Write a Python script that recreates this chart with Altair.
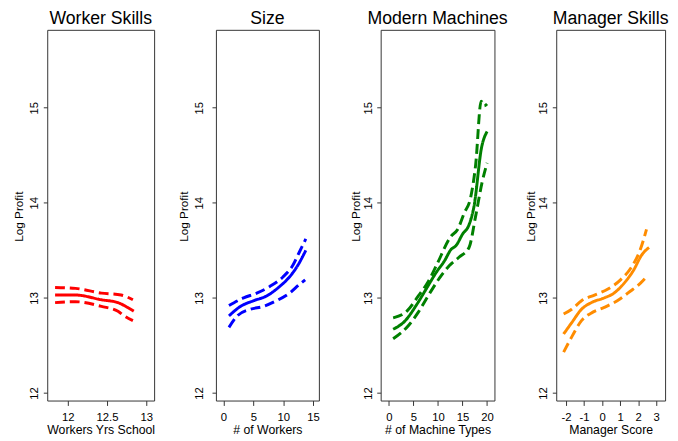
import altair as alt
import pandas as pd

FONT = "Liberation Sans"
BANDS = ["fit", "upper", "lower"]

# Panel 1: Worker Skills
ws_x_fit = [11.84, 12.10, 12.43, 12.64, 12.76, 12.84]
ws_fit = [13.03, 13.03, 12.98, 12.95, 12.90, 12.86]
ws_x_hi = [11.84, 12.10, 12.43, 12.68, 12.83]
ws_hi = [13.11, 13.10, 13.05, 13.03, 12.98]
ws_x_lo = [11.84, 12.10, 12.43, 12.64, 12.72, 12.83]
ws_lo = [12.95, 12.96, 12.91, 12.86, 12.81, 12.76]

# Panel 2: Size
sz_x_fit = [0.93, 2.85, 5.04, 7.22, 9.41, 11.06, 12.43, 13.79]
sz_fit = [12.81, 12.91, 12.97, 13.02, 13.12, 13.22, 13.34, 13.50]
sz_x_hi = [0.93, 3.39, 5.58, 7.77, 9.96, 11.60, 12.70, 13.79]
sz_hi = [12.92, 13.00, 13.05, 13.12, 13.22, 13.34, 13.48, 13.62]
sz_x_lo = [0.93, 2.30, 4.49, 6.68, 8.87, 11.06, 12.70, 13.68]
sz_lo = [12.69, 12.81, 12.88, 12.91, 12.97, 13.05, 13.14, 13.19]

# Panel 3: Modern Machines
mm_x_fit = [0.87, 3.33, 5.67, 7.67, 9.67, 11.33, 12.67, 13.67, 15.0, 16.33, 17.33, 18.87, 20.0]
mm_fit = [12.67, 12.76, 12.93, 13.10, 13.27, 13.39, 13.51, 13.55, 13.67, 13.77, 13.96, 14.58, 14.75]
mm_x_hi = [0.87, 3.67, 6.0, 8.0, 9.67, 12.67, 14.0, 15.33, 16.67, 17.67, 18.8, 19.4, 20.0]
mm_hi = [12.79, 12.86, 13.02, 13.17, 13.34, 13.65, 13.72, 13.89, 14.06, 14.40, 15.07, 15.02, 15.04]
mm_x_lo = [0.87, 4.0, 6.0, 8.33, 10.33, 12.33, 14.33, 16.33, 17.67, 19.0, 20.0]
mm_lo = [12.57, 12.71, 12.85, 13.05, 13.21, 13.34, 13.43, 13.53, 13.86, 14.22, 14.42]

# Panel 4: Manager Skills
ms_x_fit = [-2.13, -1.68, -1.14, -0.60, 0.12, 0.66, 1.20, 1.74, 2.19, 2.60]
ms_fit = [12.62, 12.74, 12.88, 12.95, 13.00, 13.05, 13.15, 13.29, 13.45, 13.53]
ms_x_hi = [-2.13, -1.68, -1.14, -0.42, 0.30, 1.02, 1.65, 2.10, 2.46]
ms_hi = [12.83, 12.88, 12.97, 13.03, 13.09, 13.19, 13.33, 13.50, 13.72]
ms_x_lo = [-2.13, -1.68, -1.14, -0.51, 0.12, 0.84, 1.56, 2.10, 2.55]
ms_lo = [12.43, 12.59, 12.76, 12.85, 12.90, 12.97, 13.07, 13.15, 13.24]

Y_TICKS = [12, 13, 14, 15]
Y_DOMAIN = [11.92, 15.82]


def panel(title, xs_list, ys_list, color, dom, ticks, xtitle, width, ytitle_x, ylab_pad):
    frames = []
    for band, xs, ys in zip(BANDS, xs_list, ys_list):
        frames.append(pd.DataFrame({"x": xs, "y": ys, "band": band}))
    df = pd.concat(frames, ignore_index=True)
    return alt.Chart(df).mark_line(
        strokeWidth=3, interpolate="monotone", color=color, strokeCap="butt"
    ).encode(
        x=alt.X("x:Q",
                scale=alt.Scale(domain=dom, nice=False, zero=False),
                axis=alt.Axis(values=ticks, title=xtitle,
                              labelExpr="datum.value + ''")),
        y=alt.Y("y:Q",
                scale=alt.Scale(domain=Y_DOMAIN, nice=False, zero=False),
                axis=alt.Axis(values=Y_TICKS, title="Log Profit",
                              titleX=ytitle_x, titleY=190,
                              labelPadding=ylab_pad)),
        detail="band:N",
        strokeDash=alt.StrokeDash(
            "band:N",
            scale=alt.Scale(domain=BANDS, range=[[1, 0], [10, 5], [10, 5]]),
            legend=None),
    ).properties(
        width=width, height=378,
        title=alt.TitleParams(title, fontSize=18, font=FONT, fontWeight="normal",
                              anchor="middle", baseline="alphabetic", offset=-12,
                              frame="group", color="black"),
    )


p1 = panel("Worker Skills", [ws_x_fit, ws_x_hi, ws_x_lo], [ws_fit, ws_hi, ws_lo],
           "#FF0000", [11.74, 13.10], [12, 12.5, 13], "Workers Yrs School", 109, -22, 3.6)
p2 = panel("Size", [sz_x_fit, sz_x_hi, sz_x_lo], [sz_fit, sz_hi, sz_lo],
           "#0000FF", [-1.25, 15.98], [0, 5, 10, 15], "# of Workers", 105, -25.5, 8)
p3 = panel("Modern Machines", [mm_x_fit, mm_x_hi, mm_x_lo], [mm_fit, mm_hi, mm_lo],
           "#008000", [-1.67, 21.5], [0, 5, 10, 15, 20], "# of Machine Types", 116, -18.3, 3.6)
p4 = panel("Manager Skills", [ms_x_fit, ms_x_hi, ms_x_lo], [ms_fit, ms_hi, ms_lo],
           "#FF8C00", [-2.54, 3.49], [-2, -1, 0, 1, 2, 3], "Manager Score", 111, -19, 4.3)

chart = alt.hconcat(p1, p2, p3, p4, spacing=63, bounds="flush").properties(
    padding={"left": 4, "top": -3, "right": 0, "bottom": 0},
    background="white",
).configure_view(
    stroke="#333333", strokeWidth=1
).configure_axis(
    domain=False, grid=False, tickColor="#333333", tickSize=5,
    labelFont=FONT, labelFontSize=11.5, labelColor="black",
    titleFont=FONT, titleFontWeight="normal", titleColor="black",
).configure_axisY(
    labelAngle=270, labelAlign="center", labelBaseline="bottom",
    titleAngle=270, titleBaseline="bottom", titleFontSize=12, tickSize=4,
).configure_axisX(
    titleFontSize=12.5, labelPadding=6, titlePadding=1,
)

chart.save("out.html", embed_options={"renderer": "svg", "actions": False})
